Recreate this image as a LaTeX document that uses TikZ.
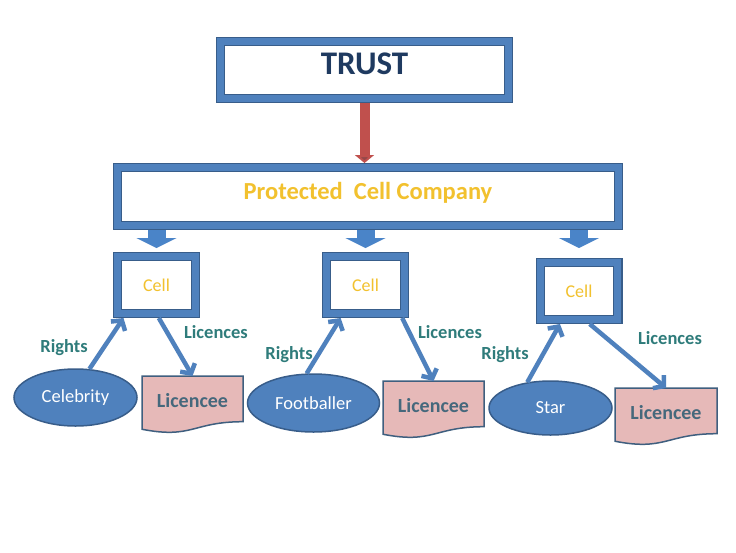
\documentclass[tikz,border=0pt]{standalone}
\usepackage{fontspec}
\setmainfont{Carlito}
\usetikzlibrary{shapes.geometric, arrows.meta, calc, backgrounds}

\definecolor{band}{HTML}{4F81BD}
\definecolor{bandedge}{HTML}{385D8A}
\definecolor{blockblue}{HTML}{4A84C8}
\definecolor{navy}{HTML}{1F3A60}
\definecolor{gold}{HTML}{F2C12E}
\definecolor{labelteal}{HTML}{2F7C7B}
\definecolor{doctext}{HTML}{45687C}
\definecolor{docpink}{HTML}{E6B9B8}
\definecolor{docedge}{HTML}{3F5F7F}
\definecolor{linkred}{HTML}{C0504D}
\definecolor{tipred}{HTML}{94484A}

\begin{document}
\begin{tikzpicture}[
  x=1pt, y=-1pt,
  frame/.style={rectangle, draw=bandedge, double=band, double distance=7pt, line width=1.2pt,
    fill=white, inner sep=0pt, outer sep=4.7pt},
  cellbox/.style={frame, minimum width=77.6pt, minimum height=56.6pt, text=gold,
    font=\fontsize{18}{21}\selectfont},
  owner/.style={ellipse, draw=bandedge, fill=band, line width=1.5pt, inner sep=0pt,
    text=white, font=\fontsize{18.5}{22}\selectfont},
  docnode/.style={rectangle, inner sep=0pt, outer sep=0pt, minimum height=50pt,
    text=doctext, font=\bfseries\fontsize{20}{24}\selectfont},
  docshape/.style={draw=docedge, fill=docpink, line width=1.5pt},
  flowarrow/.style={draw=band, line width=4.5pt, -{Straight Barb[length=7pt, width=17pt]}},
  flowlabel/.style={text=labelteal, font=\bfseries\fontsize{18.5}{22}\selectfont},
  blockarrow/.style={draw=blockblue, line width=18pt, -{Triangle[length=10pt, width=40pt]}},
  trustlink/.style={draw=linkred, line width=10pt, -{Triangle[length=8pt, width=19pt, fill=tipred]}},
]

\useasboundingbox (0,0) rectangle (736,552);

% --- Top level: trust and the protected cell company ---
\node[frame, minimum width=287.6pt, minimum height=56.6pt, text=navy, text depth=13pt,
  font=\bfseries\fontsize{33}{38}\selectfont] (trust) at (364.5,70) {TRUST};
\node[frame, minimum width=500.6pt, minimum height=57.6pt, text=gold, text depth=11pt,
  font=\bfseries\fontsize{24.5}{29}\selectfont] (pcc) at (368,196.5) {Protected~ Cell Company};

\draw[trustlink] (trust.south) -- (trust.south |- pcc.north);

% --- The three cells ---
\node[cellbox] (cell1) at (156.5,285) {Cell};
\node[cellbox] (cell2) at (365.5,285) {Cell};
\node[cellbox] (cell3) at (579,291) {Cell};

\foreach \c/\s in {cell1/4, cell2/4, cell3/10}
  \draw[blockarrow, shorten >=\s pt] (\c.north |- pcc.south) -- (\c.north);

% --- Rights holders and licencees ---
\node[owner, minimum width=123pt, minimum height=57pt] (celebrity) at (75.5,397.5) {Celebrity};
\node[owner, minimum width=132pt, minimum height=58pt] (footballer) at (313.5,403) {Footballer};
\node[owner, minimum width=123pt, minimum height=54pt] (star) at (550.5,408) {Star};

\node[docnode, minimum width=101pt] (lic1) at (192.5,401) {Licencee};
\node[docnode, minimum width=101pt] (lic2) at (433.5,406) {Licencee};
\node[docnode, minimum width=102pt] (lic3) at (666,413) {Licencee};

% document outline with the wavy lower edge, behind the text
\begin{scope}[on background layer]
  \fill[white] (0,0) rectangle (736,552);
  \foreach \d in {lic1, lic2, lic3}
    \path[docshape] (\d.north west) -- (\d.north east)
      -- ($(\d.north east)!0.914!(\d.south east)$)
      .. controls ($(\d.north)!0.914!(\d.south)$) and ($(\d.north)!1.263!(\d.south)$)
      .. ($(\d.north west)!1.065!(\d.south west)$) -- cycle;
\end{scope}

% --- Rights go up, licences go down ---
\draw[flowarrow] (celebrity.64) -- (cell1.225);
\draw[flowarrow] (footballer.103) -- (cell2.233);
\draw[flowarrow] (star.132) -- (cell3.240);

\draw[flowarrow] (cell1.274) -- (lic1.north);
\draw[flowarrow] (cell2.318) -- (lic2.north);
\draw[flowarrow] (cell3.288) -- (lic3.north);

\node[flowlabel] (rights1) at (64,348) {Rights};
\node[flowlabel] (rights2) at (289,355) {Rights};
\node[flowlabel] (rights3) at (505,355) {Rights};
\node[flowlabel] (licences1) at (216,332) {Licences};
\node[flowlabel] (licences2) at (450,332) {Licences};
\node[flowlabel] (licences3) at (670,338) {Licences};

\end{tikzpicture}
\end{document}
